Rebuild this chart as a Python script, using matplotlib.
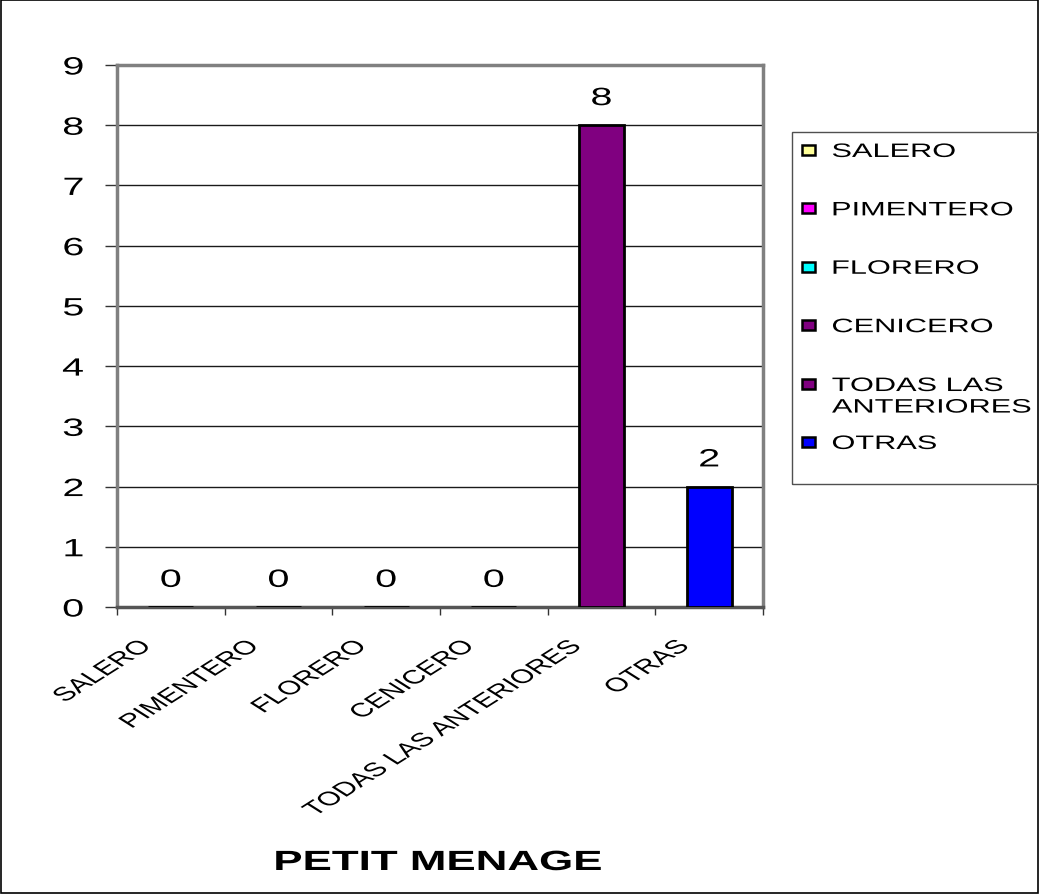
import matplotlib
matplotlib.use("Agg")
import matplotlib.pyplot as plt
from matplotlib.patches import Rectangle
from matplotlib.patheffects import AbstractPathEffect
from matplotlib.transforms import Affine2D

plt.rcParams['font.family'] = ['Liberation Sans', 'DejaVu Sans']

categories = ["SALERO", "PIMENTERO", "FLORERO", "CENICERO",
              "TODAS LAS ANTERIORES", "OTRAS"]
legend_labels = ["SALERO", "PIMENTERO", "FLORERO", "CENICERO",
                 "TODAS LAS\nANTERIORES", "OTRAS"]
values = [0, 0, 0, 0, 8, 2]
colors = ["#FFFF99", "#FF00FF", "#00FFFF", "#800080", "#800080", "#0000FF"]
y_ticks = list(range(0, 10))
title = "PETIT MENAGE"

W, H = 1039, 895
STRETCH = 1.58  # wide (horizontally expanded) lettering


class HStretch(AbstractPathEffect):
    """Draw glyphs widened horizontally about the left, centre or right of the ink."""

    def __init__(self, sx, anchor="center"):
        super().__init__()
        self.sx = sx
        self.anchor = anchor

    def draw_path(self, renderer, gc, tpath, affine, rgbFace=None):
        ext = tpath.get_extents(affine)
        if self.anchor == "left":
            x0 = ext.x0
        elif self.anchor == "right":
            x0 = ext.x1
        else:
            x0 = 0.5 * (ext.x0 + ext.x1)
        wide = affine + Affine2D().translate(-x0, 0).scale(self.sx, 1).translate(x0, 0)
        renderer.draw_path(gc, tpath, wide, rgbFace)


def wide(anchor):
    return [HStretch(STRETCH, anchor)]


fig = plt.figure(figsize=(W / 100, H / 100), dpi=100)
fig.patch.set_facecolor("white")


def fx(px):
    return px / W


def fy(py):
    return 1 - py / H


# outer chart border
fig.patches.append(Rectangle((0.0005, 0.0008), 0.9985, 0.998, transform=fig.transFigure,
                             fill=False, edgecolor="black", linewidth=1.2))

ax = fig.add_axes([fx(117), fy(608), fx(763) - fx(117), fy(66) - fy(608)])
x = list(range(len(categories)))
ax.bar(x, values, width=0.42, color=colors, edgecolor="black", linewidth=2, zorder=3)

ax.set_xlim(-0.5, len(categories) - 0.5)
ax.set_ylim(y_ticks[0], y_ticks[-1])
ax.set_yticks(y_ticks)
ax.yaxis.grid(True, color="#1a1a1a", linewidth=1.0, zorder=0)
ax.tick_params(axis="y", labelsize=18, length=9, width=1.0, pad=15,
               direction="out", color="#333333")
for lbl in ax.get_yticklabels():
    lbl.set_path_effects(wide("right"))

# category boundary ticks on the x axis, labels drawn separately at an angle
ax.set_xticks([i - 0.5 for i in range(len(categories) + 1)])
ax.set_xticklabels([])
ax.tick_params(axis="x", length=6, width=1.0, direction="out", color="#333333")
for i, name in enumerate(categories):
    ax.annotate(name, xy=(i, 0), xycoords="data", xytext=(-16.5, -26.5),
                textcoords="offset points", rotation=45, rotation_mode="anchor",
                ha="right", va="center", fontsize=14, path_effects=wide("right"))

for side in ["top", "right", "left"]:
    ax.spines[side].set_color("#808080")
    ax.spines[side].set_linewidth(2.5)
ax.spines["bottom"].set_color("#555555")
ax.spines["bottom"].set_linewidth(2.5)

for i, v in enumerate(values):
    ax.annotate(str(v), xy=(i, v), xytext=(0, 14.5), textcoords="offset points",
                ha="center", va="baseline", fontsize=18, path_effects=wide("center"))

fig.text(fx(438), fy(871), title, ha="center", va="baseline",
         fontsize=20, fontweight="bold", path_effects=wide("center"))

# legend: framed box with square swatches and labels
fig.patches.append(Rectangle((fx(792), fy(485)), fx(1050) - fx(792), fy(133) - fy(485),
                             transform=fig.transFigure, fill=False,
                             edgecolor="#505050", linewidth=1.0))
legend_fs = 14
cap_px = legend_fs * 100 / 72 * 0.716
line_px = 22
row_top = 151
row_step = 58.4
for k, (lab, col) in enumerate(zip(legend_labels, colors)):
    yc = row_top + k * row_step
    fig.patches.append(Rectangle((fx(802), fy(yc + 5)), fx(815) - fx(802), fy(yc - 5) - fy(yc + 5),
                                 transform=fig.transFigure, facecolor=col,
                                 edgecolor="black", linewidth=1.8))
    n_extra = lab.count("\n")
    fig.text(fx(832), fy(yc + cap_px / 2 + n_extra * line_px), lab, ha="left",
             va="baseline", fontsize=legend_fs, linespacing=1.35,
             path_effects=wide("left"))

fig.savefig("out.png", dpi=100)
